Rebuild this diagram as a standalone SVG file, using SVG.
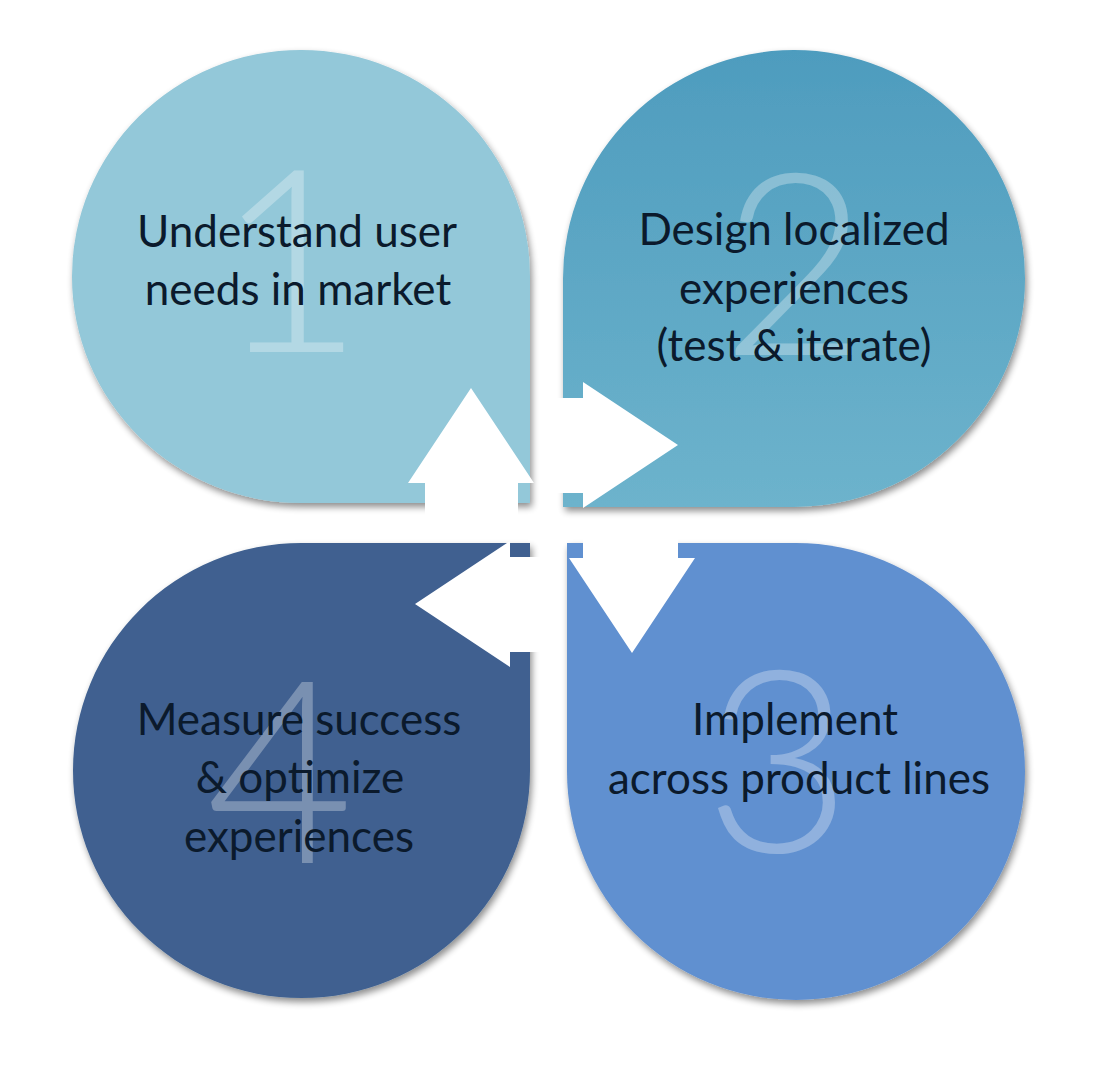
<svg xmlns="http://www.w3.org/2000/svg" width="1108" height="1076" viewBox="0 0 1108 1076">
<defs>
<linearGradient id="g2" x1="0" y1="0" x2="0" y2="1">
<stop offset="0" stop-color="#4E9CBE"/>
<stop offset="1" stop-color="#6DB3CC"/>
</linearGradient>
<filter id="sh" x="-10%" y="-10%" width="125%" height="125%">
<feGaussianBlur in="SourceAlpha" stdDeviation="3.5"/>
<feOffset dx="2" dy="4" result="b"/>
<feComponentTransfer><feFuncA type="linear" slope="0.45"/></feComponentTransfer>
<feMerge><feMergeNode/><feMergeNode in="SourceGraphic"/></feMerge>
</filter>
<style>
.lbl{font-family:"Lato","Liberation Sans",sans-serif;font-size:44px;fill:#0b1a2c;text-anchor:middle}
.num{font-family:"Lato","Liberation Sans",sans-serif;font-weight:300;font-size:255px;fill:#ffffff;fill-opacity:0.3;text-anchor:middle}
.arr{fill:#ffffff}
</style>
</defs>
<rect width="1108" height="1076" fill="#ffffff"/>
<g id="node1">
<path filter="url(#sh)" fill="#93C8D9" d="M530,503 H301 A229,226.5 0 0 1 72,276.5 A229,226.5 0 0 1 301,50 A229,226.5 0 0 1 530,276.5 Z"/>
<text class="num" x="290" y="352">1</text>
<text class="lbl" x="297" y="247">Understand user</text>
<text class="lbl" x="298" y="305">needs in market</text>
</g>
<g id="node2">
<path filter="url(#sh)" fill="url(#g2)" d="M563,507 V278.5 A231,228.5 0 0 1 794,50 A231,228.5 0 0 1 1025,278.5 A231,228.5 0 0 1 794,507 Z"/>
<text class="num" x="795" y="355">2</text>
<text class="lbl" x="794" y="245">Design localized</text>
<text class="lbl" x="794" y="304">experiences</text>
<text class="lbl" x="794" y="361">(test &amp; iterate)</text>
</g>
<g id="node3">
<path filter="url(#sh)" fill="#6190D0" d="M567,543 H796 A229,228.5 0 0 1 1025,771.5 A229,228.5 0 0 1 796,1000 A229,228.5 0 0 1 567,771.5 Z"/>
<text class="num" x="778" y="852">3</text>
<text class="lbl" x="795" y="735">Implement</text>
<text class="lbl" x="799" y="794">across product lines</text>
</g>
<g id="node4">
<path filter="url(#sh)" fill="#3F6190" d="M530,543 V770.5 A228.5,227.5 0 0 1 301.5,998 A228.5,227.5 0 0 1 73,770.5 A228.5,227.5 0 0 1 301.5,543 Z"/>
<text class="num" x="280" y="863">4</text>
<text class="lbl" x="299" y="735">Measure success</text>
<text class="lbl" x="300" y="793">&amp; optimize</text>
<text class="lbl" x="299" y="852">experiences</text>
</g>
<g id="connectors">
<polygon class="arr" points="471,388 534,483 518,483 518,523 425,523 425,483 408,483"/>
<polygon class="arr" points="678,445 583,382 583,398 543,398 543,493 583,493 583,508"/>
<polygon class="arr" points="632,653 695,558 678,558 678,523 583,523 583,558 569,558"/>
<polygon class="arr" points="415,604 510,541 510,557 550,557 550,652 510,652 510,667"/>
</g>
</svg>
